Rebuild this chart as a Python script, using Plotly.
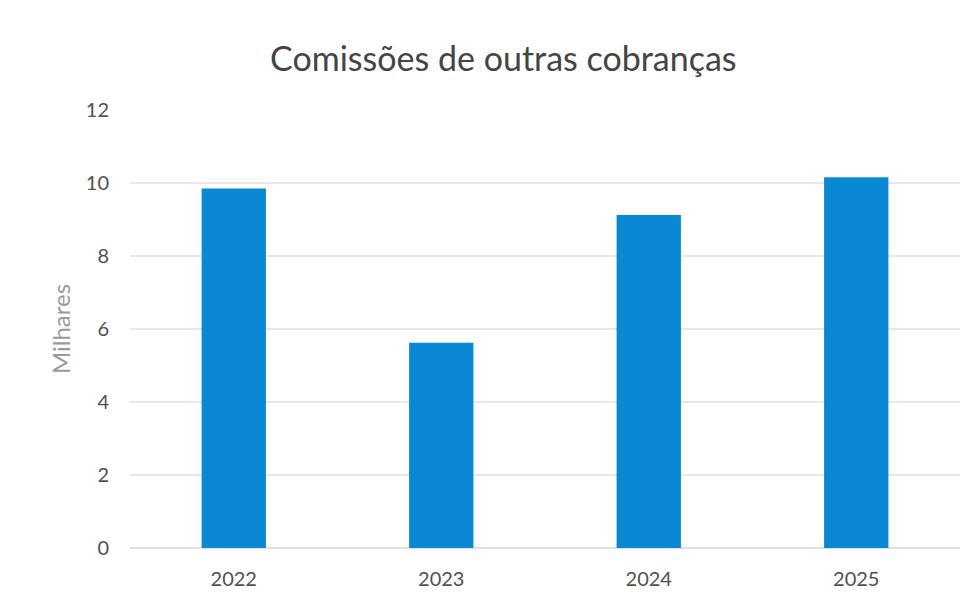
import plotly.graph_objects as go

# Dados (milhares)
anos = ["2022", "2023", "2024", "2025"]
valores = [9.85, 5.62, 9.12, 10.16]
y_ticks = [0, 2, 4, 6, 8, 10, 12]

fig = go.Figure()

fig.add_trace(
    go.Bar(
        x=anos,
        y=valores,
        marker=dict(color="#0A88D3", line=dict(width=0)),
        width=0.31,
        showlegend=False,
    )
)

fig.update_layout(
    width=977,
    height=606,
    title=dict(
        text="Comissões de outras cobranças",
        font=dict(family="Lato, Open Sans, sans-serif", size=34, color="#444444"),
        x=0.507,
        xanchor="center",
        y=0.915,
        yanchor="middle",
    ),
    font=dict(family="Lato, Open Sans, sans-serif", size=20, color="#505050"),
    margin=dict(l=122, r=25, t=102, b=66),
    plot_bgcolor="white",
    paper_bgcolor="white",
)

fig.update_xaxes(
    showgrid=False,
    showline=False,
    ticks="",
    ticklabelstandoff=17,
    tickfont=dict(size=20, color="#505050"),
)
fig.update_yaxes(
    range=[0, 12],
    tickvals=y_ticks,
    showgrid=True,
    gridcolor="#e8e8e8",
    gridwidth=1.5,
    zeroline=True,
    zerolinecolor="#e0e0e0",
    zerolinewidth=1.5,
    ticks="",
    ticklabelstandoff=20,
    tickfont=dict(size=20, color="#505050"),
    title=dict(text="Milhares", font=dict(size=24, color="#9a9a9a"), standoff=8),
)

fig.write_html("out.html")
